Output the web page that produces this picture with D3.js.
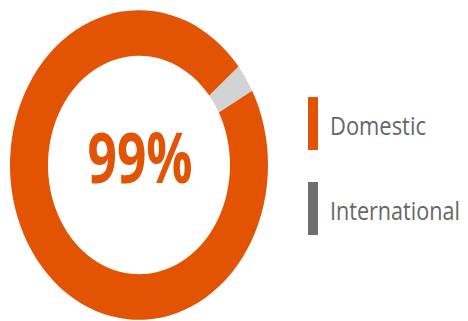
<!DOCTYPE html>
<html>
<head>
<meta charset="utf-8">
<script src="https://cdn.jsdelivr.net/npm/d3@7"></script>
<style>
  html, body { margin: 0; padding: 0; background: #ffffff; }
  svg { display: block; }
</style>
</head>
<body>
<div id="chart"></div>
<script>
'use strict';

// ─── Data ──────────────────────────────────────────────────────────────────
const categories = ['International', 'Domestic'];
const shares     = [3, 97];               // arc sizes as drawn
const centerText = '99%';
const legendLabels = ['Domestic', 'International'];

const W = 468, H = 321;
const ORANGE = '#e25304';
const colors = { 'Domestic': ORANGE, 'International': '#d1d3d4' };
const legendColors = { 'Domestic': ORANGE, 'International': '#6d6e71' };

const svg = d3.select('#chart').append('svg')
    .attr('width', W).attr('height', H)
    .attr('viewBox', '0 0 ' + W + ' ' + H);

// squeeze a text horizontally to a target width (the reference font is narrow)
function fitWidth(sel, target) {
    sel.each(function (d) {
        const el = this;
        const w = el.getComputedTextLength();
        const t = typeof target === 'function' ? target(d) : target;
        const x = +el.getAttribute('x'), y = +el.getAttribute('y');
        el.setAttribute('x', 0);
        el.setAttribute('y', 0);
        el.setAttribute('transform', 'translate(' + x + ',' + y + ') scale(' + (t / w) + ',1)');
    });
}

// ─── Donut (slightly stretched vertically like the reference) ──────────────
const cx = 139, cy = 165;
const donut = svg.append('g')
    .attr('transform', 'translate(' + cx + ',' + cy + ') scale(1,1.2)');

const pie = d3.pie()
    .sort(null)
    .value(function (d) { return d.v; })
    .startAngle(50.5 * Math.PI / 180)
    .endAngle(50.5 * Math.PI / 180 + 2 * Math.PI);

const arc = d3.arc().innerRadius(91).outerRadius(129);

const slices = categories.map(function (c, i) { return { name: c, v: shares[i] }; });

donut.selectAll('path')
    .data(pie(slices))
    .enter()
    .append('path')
    .attr('d', arc)
    .attr('fill', function (d) { return colors[d.data.name]; });

svg.append('text')
    .attr('x', 140).attr('y', 183)
    .attr('text-anchor', 'middle')
    .attr('font-family', '"Open Sans", sans-serif')
    .attr('font-weight', 700)
    .attr('font-size', 70)
    .attr('fill', ORANGE)
    .text(centerText)
    .call(fitWidth, 105);

// ─── Legend ────────────────────────────────────────────────────────────────
const legend = svg.append('g');
const rowY = d3.scalePoint().domain(legendLabels).range([97, 182]);
const textLen = { 'Domestic': 96, 'International': 130 };

legend.selectAll('rect')
    .data(legendLabels)
    .enter()
    .append('rect')
    .attr('x', 308)
    .attr('y', function (d) { return rowY(d); })
    .attr('width', 10)
    .attr('height', 53)
    .attr('fill', function (d) { return legendColors[d]; });

legend.selectAll('text')
    .data(legendLabels)
    .enter()
    .append('text')
    .attr('x', 330)
    .attr('y', function (d) { return rowY(d) + 38; })
    .attr('font-family', '"Open Sans", sans-serif')
    .attr('font-size', 26)
    .attr('fill', '#666666')
    .text(function (d) { return d; })
    .call(fitWidth, function (d) { return textLen[d]; });
</script>
</body>
</html>
